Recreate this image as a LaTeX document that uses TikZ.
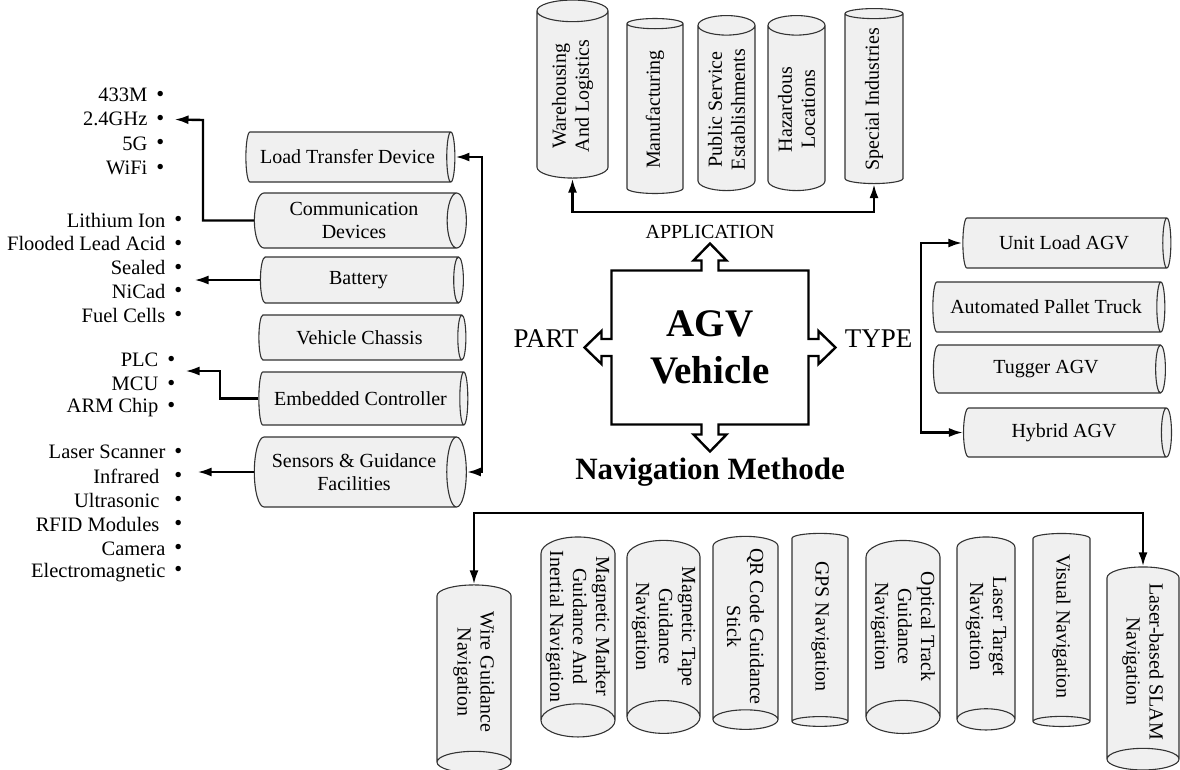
\documentclass[tikz,border=0pt]{standalone}
\usepackage{fontspec}
\setmainfont{Liberation Serif}
\usetikzlibrary{arrows.meta,positioning,shapes.geometric}

\newcommand{\dotmark}{\hspace{9pt}\raisebox{0.5pt}{\scalebox{1.1}{\textbullet}}}

\begin{document}
\begin{tikzpicture}[
  x=1pt, y=-1pt,
  part/.style={draw=black!80, line width=1.1pt, fill=black!6, cylinder, aspect=0.5, inner sep=1pt, align=center, font=\fontsize{20}{23}\selectfont},
  upcyl/.style={part, rotate=90},
  downcyl/.style={part, rotate=-90},
  sz/.style 2 args={minimum height=#1pt, minimum width=#2pt},
  item/.style={anchor=east, inner sep=0pt, font=\fontsize{20.5}{23}\selectfont},
  head/.style={font=\fontsize{27}{30}\selectfont},
  arr/.style={-{Latex[length=14pt,width=9pt]}, line width=2.4pt},
  biarr/.style={{Latex[length=14pt,width=9pt]}-{Latex[length=14pt,width=9pt]}, line width=2.4pt}
]
\useasboundingbox (0,0) rectangle (1180,769);

% centre block
\node[font=\bfseries\fontsize{39}{47}\selectfont, align=center, minimum width=197pt, minimum height=154pt] (agv) at (710,347.5) {AGV\\Vehicle};
\draw[line width=2.4pt, line join=miter, shift={(agv.center)}]
  (-98.5,-77) -- (-8.5,-77) -- (-8.5,-87) -- (-16.5,-87) -- (0,-104) -- (16.5,-87) -- (8.5,-87) -- (8.5,-77)
  -- (98.5,-77) -- (98.5,-8.5) -- (108.5,-8.5) -- (108.5,-16.5) -- (125.5,0) -- (108.5,16.5) -- (108.5,8.5) -- (98.5,8.5)
  -- (98.5,77) -- (8.5,77) -- (8.5,87) -- (16.5,87) -- (0,104) -- (-16.5,87) -- (-8.5,87) -- (-8.5,77)
  -- (-98.5,77) -- (-98.5,8.5) -- (-108.5,8.5) -- (-108.5,16.5) -- (-125.5,0) -- (-108.5,-16.5) -- (-108.5,-8.5) -- (-98.5,-8.5) -- cycle;
\node[font=\fontsize{20}{24}\selectfont] (applab) at (710,232) {APPLICATION};
\node[head] (partlab) at (546,339) {PART};
\node[head] (typelab) at (878.5,339) {TYPE};
\node[font=\bfseries\fontsize{31}{36}\selectfont] (navlab) at (710,472) {Navigation Methode};

% application
\node[upcyl, sz={178}{71}] (ware) at (572.5,96) {Warehousing\\And Logistics};
\node[upcyl, sz={175}{56}] (manu) at (655,109.5) {Manufacturing};
\node[upcyl, sz={175}{57}] (pub) at (726.5,109.5) {Public Service\\Establishments};
\node[upcyl, sz={175}{57}] (haz) at (796.5,109.5) {Hazardous\\Locations};
\node[upcyl, sz={175}{58}] (spec) at (874,99.5) {Special Industries};

% parts
\node[part, sz={209}{50}] (ltd) at (347.5,157) {Load Transfer Device};
\node[part, sz={212}{55}] (comm) at (354,220.5) {Communication\\Devices};
\node[part, sz={203}{46}] (batt) at (358.5,280) {Battery};
\node[part, sz={207}{45}] (chassis) at (359.5,337.5) {Vehicle Chassis};
\node[part, sz={209}{53}] (ctrl) at (360.5,398.5) {Embedded Controller};
\node[part, sz={212}{70}] (sensors) at (354,472) {Sensors \& Guidance\\Facilities};

\foreach \n/\t [count=\i from 0] in {r433/433M, rghz/2.4GHz, r5g/5G, rwifi/WiFi}
  \node[item] (\n) at (164.5,95+24.3*\i) {\t\dotmark};
\foreach \n/\t [count=\i from 0] in {rli/Lithium Ion, rflood/Flooded Lead Acid, rsealed/Sealed, rnicad/NiCad, rfuel/Fuel Cells}
  \node[item] (\n) at (182.5,220+23.8*\i) {\t\dotmark};
\foreach \n/\t [count=\i from 0] in {rplc/PLC, rmcu/MCU, rarm/ARM Chip}
  \node[item] (\n) at (175.5,360+24*\i) {\t\dotmark};
\foreach \n/\t [count=\i from 0] in {rlaser/Laser Scanner, rinfra/Infrared\hspace{6pt}, rultra/Ultrasonic\hspace{6pt}, rrfid/RFID Modules\hspace{6pt}, rcam/Camera, rem/Electromagnetic}
  \node[item] (\n) at (182.5,452+24.1*\i) {\t\dotmark};

% types
\node[part, sz={208}{50}] (unit) at (1064,243) {Unit Load AGV};
\node[part, sz={232}{50}] (pallet) at (1046,307) {Automated Pallet Truck};
\node[part, sz={232}{48}] (tugger) at (1046,369) {Tugger AGV};
\node[part, sz={208}{49}] (hybrid) at (1064,432.5) {Hybrid AGV};

% navigation
\node[downcyl, sz={188}{74}] (wire) at (474,672) {Wire Guidance\\Navigation};
\node[downcyl, sz={193}{74}] (mmark) at (578,626.5) {Magnetic Marker\\Guidance And\\Inertial Navigation};
\node[downcyl, sz={193}{73}] (mtape) at (663.5,626.5) {Magnetic Tape\\Guidance\\Navigation};
\node[downcyl, sz={193}{65}] (qr) at (745.5,626.5) {QR Code Guidance\\Stick};
\node[downcyl, sz={193}{56}] (gps) at (820,626.5) {GPS Navigation};
\node[downcyl, sz={193}{74}] (optical) at (903,626.5) {Optical Track\\Guidance\\Navigation};
\node[downcyl, sz={193}{58}] (lasert) at (986,626.5) {Laser Target\\Navigation};
\node[downcyl, sz={193}{57}] (visual) at (1061.5,626.5) {Visual Navigation};
\node[downcyl, sz={203}{72}] (slam) at (1143,661.5) {Laser-based SLAM\\Navigation};

% connectors
\coordinate (appbar) at (725,212);
\coordinate (partbar) at (482,300);
\coordinate (typebar) at (921,340);
\coordinate (navbar) at (800,513);
\coordinate (commbar) at (203,120);
\coordinate (ctrlbar) at (220,371);

\draw[biarr] (ware.bottom) -- (ware.bottom |- appbar) -- (spec.bottom |- appbar) -- (spec.bottom);
\draw[biarr] (ltd.east) -- (ltd.east -| partbar) -- (sensors.east -| partbar) -- (sensors.east);
\draw[biarr] (unit.west) -- (unit.west -| typebar) -- (hybrid.west -| typebar) -- (hybrid.west);
\draw[biarr] (wire.bottom) -- (wire.bottom |- navbar) -- (slam.bottom |- navbar) -- (slam.bottom);
\draw[arr, shorten >=10pt] (comm.west) -| (commbar) -- (rghz.east);
\draw[arr, shorten >=12pt] (batt.west) -- (batt.west -| rsealed.east);
\draw[arr, shorten >=10pt] (ctrl.west) -| (ctrlbar) -- (ctrlbar -| rplc.east);
\draw[arr, shorten >=15pt] (sensors.west) -- (sensors.west -| rinfra.east);
\end{tikzpicture}
\end{document}
